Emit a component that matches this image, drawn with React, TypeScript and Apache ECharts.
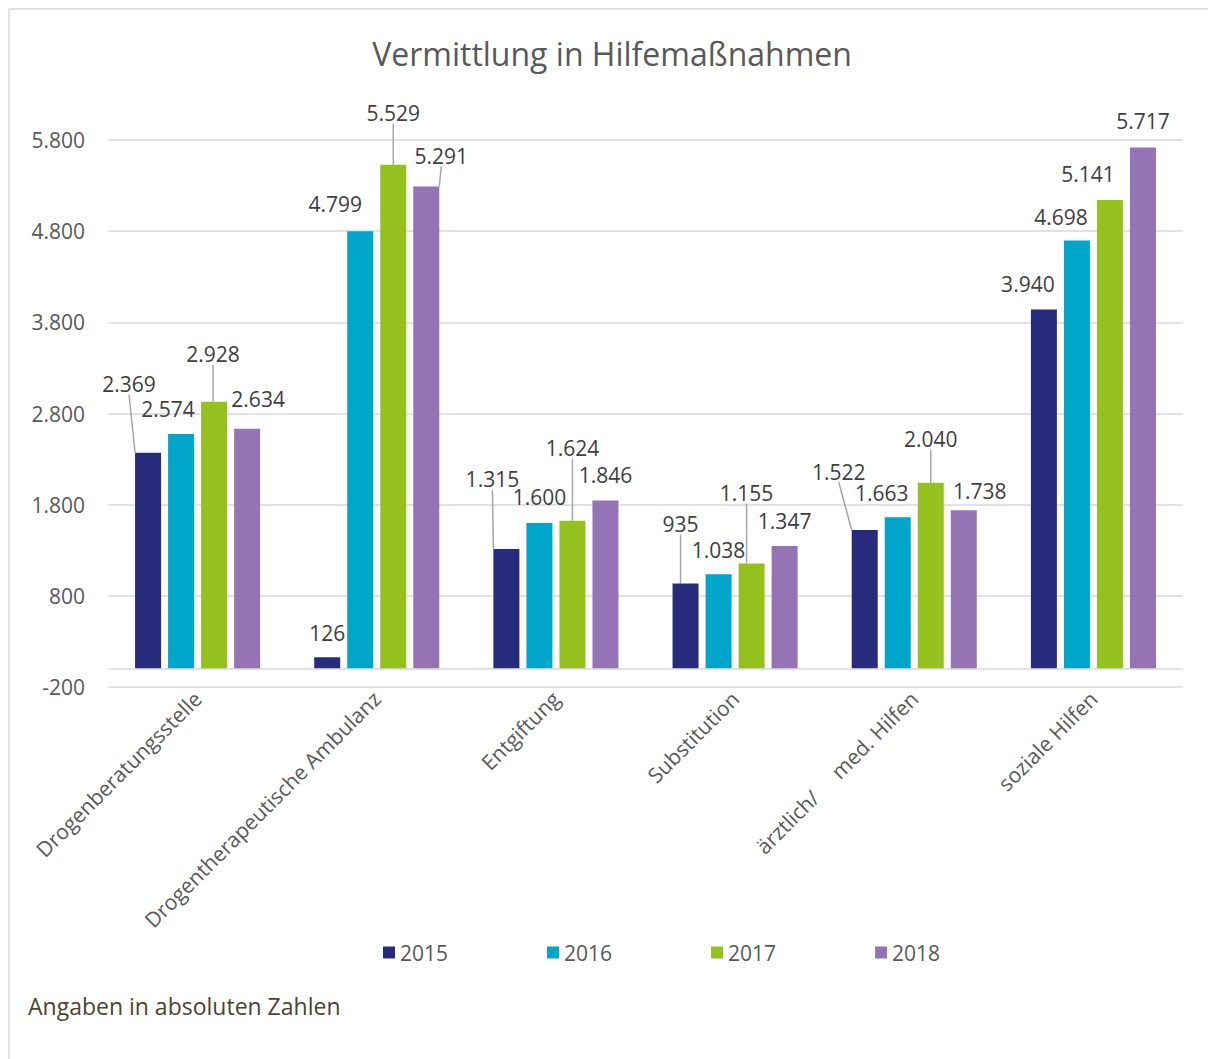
import React, { useEffect, useRef } from "react";
import * as echarts from "echarts";

const categories = [
  "Drogenberatungsstelle",
  "Drogentherapeutische Ambulanz",
  "Entgiftung",
  "Substitution",
  "ärztlich/\u00a0\u00a0\u00a0\u00a0\u00a0med. Hilfen",
  "soziale Hilfen",
];
const years = ["2015", "2016", "2017", "2018"];
const values2015 = [2369, 126, 1315, 935, 1522, 3940];
const values2016 = [2574, 4799, 1600, 1038, 1663, 4698];
const values2017 = [2928, 5529, 1624, 1155, 2040, 5141];
const values2018 = [2634, 5291, 1846, 1347, 1738, 5717];
const yTickLabels = [-200, 800, 1800, 2800, 3800, 4800, 5800];

const colors = ["#262C7B", "#00A6C9", "#95C11F", "#9474B4"];

// label placement (offsets from default 'top' label position) and leader lines
const labelDx = [
  [-19, 0, -14, -5, -26, -16],
  [-13, -25, 0, 0, -16, -16],
  [-1, 0, 0, -5, 0, -22],
  [11, 15, 0, 0, 16, 0],
];
const labelDy = [
  [-53, -9, -54, -44, -43, -10],
  [-10, -12, -10, -9, -9, -8],
  [-32, -36, -57, -55, -28, -11],
  [-14, -15, -10, -9, -4, -11],
];
const leader = [
  [true, false, true, true, true, false],
  [false, false, false, false, false, false],
  [true, true, true, true, true, false],
  [false, true, false, false, false, false],
];

const fmt = (v: number) =>
  String(v).replace(/\B(?=(\d{3})+(?!\d))/g, ".");

const FONT = "'Open Sans', 'Noto Sans', sans-serif";

export default function App() {
  const ref = useRef<HTMLDivElement>(null);
  useEffect(() => {
    document.body.style.margin = "0";
    document.body.style.overflow = "hidden";
    if (!ref.current) return;
    const chart = echarts.init(ref.current, null, { renderer: "svg" });
    const seriesValues = [values2015, values2016, values2017, values2018];
    const series: any[] = seriesValues.map((vals, si) => ({
      name: years[si],
      type: "bar",
      xAxisIndex: 0,
      yAxisIndex: 0,
      barWidth: 26,
      barGap: "27%",
      itemStyle: { color: colors[si] },
      data: vals.map((v, di) => ({
        value: v,
        labelLine: {
          show: leader[si][di],
          lineStyle: { color: "#a6a6a6", width: 1.5 },
        },
      })),
      label: {
        show: true,
        position: "top",
        distance: 5,
        fontFamily: FONT,
        fontSize: 21,
        color: "#404040",
        formatter: (p: any) => fmt(p.value),
      },
      labelLine: { show: false, lineStyle: { color: "#a6a6a6", width: 1.5 } },
      labelLayout: (p: any) => ({
        dx: labelDx[si][p.dataIndex],
        dy: labelDy[si][p.dataIndex],
      }),
      markLine:
        si === 0
          ? {
              silent: true,
              symbol: "none",
              label: { show: false },
              lineStyle: { color: "#d9d9d9", width: 1.5, type: "solid" },
              data: [{ yAxis: 0 }],
            }
          : undefined,
    }));

    chart.setOption({
      animation: false,
      textStyle: { fontFamily: FONT },
      color: colors,
      grid: { left: 108, right: 25, top: 140, bottom: 372, containLabel: false },
      legend: {
        data: years,
        left: 378,
        top: 937,
        icon: "rect",
        itemWidth: 12,
        itemHeight: 12,
        itemGap: 99,
        textStyle: { fontFamily: FONT, fontSize: 21, color: "#595959" },
      },
      xAxis: {
        type: "category",
        data: categories,
        axisLine: { show: false, onZero: false },
        axisTick: { show: false },
        axisLabel: {
          rotate: 45,
          interval: 0,
          margin: 8,
          fontFamily: FONT,
          fontSize: 21,
          color: "#595959",
        },
      },
      yAxis: [
        {
          type: "value",
          min: -200,
          max: 5800,
          interval: 200,
          splitLine: { show: false },
          axisLine: { show: false },
          axisTick: { show: false },
          axisLabel: {
            margin: 23,
            fontFamily: FONT,
            fontSize: 21,
            color: "#595959",
            formatter: (v: number) =>
              yTickLabels.indexOf(Math.round(v)) >= 0 ? fmt(Math.round(v)) : "",
          },
        },
        {
          type: "value",
          position: "right",
          min: 0,
          max: 6000,
          interval: 1000,
          axisLabel: { show: false },
          axisLine: { show: false },
          axisTick: { show: false },
          splitLine: { show: true, lineStyle: { color: "#d9d9d9", width: 1.5 } },
        },
      ],
      series,
      graphic: [
        {
          type: "line",
          shape: { x1: 9, y1: 9, x2: 1208, y2: 9 },
          style: { stroke: "#d9d9d9", lineWidth: 1.5 },
          silent: true,
        },
        {
          type: "line",
          shape: { x1: 9, y1: 9, x2: 9, y2: 1059 },
          style: { stroke: "#d9d9d9", lineWidth: 1.5 },
          silent: true,
        },
        {
          type: "text",
          x: 612,
          y: 53,
          style: {
            text: "Vermittlung in Hilfemaßnahmen",
            fontFamily: FONT,
            fontSize: 32,
            fill: "#595959",
            textAlign: "center",
            textVerticalAlign: "middle",
          },
        },
        {
          type: "text",
          x: 28,
          y: 1006,
          style: {
            text: "Angaben in absoluten Zahlen",
            fontFamily: FONT,
            fontSize: 23,
            fill: "#4a4530",
            textAlign: "left",
            textVerticalAlign: "middle",
          },
        },
      ],
    });
    return () => chart.dispose();
  }, []);
  return <div ref={ref} style={{ width: 1208, height: 1059 }} />;
}
